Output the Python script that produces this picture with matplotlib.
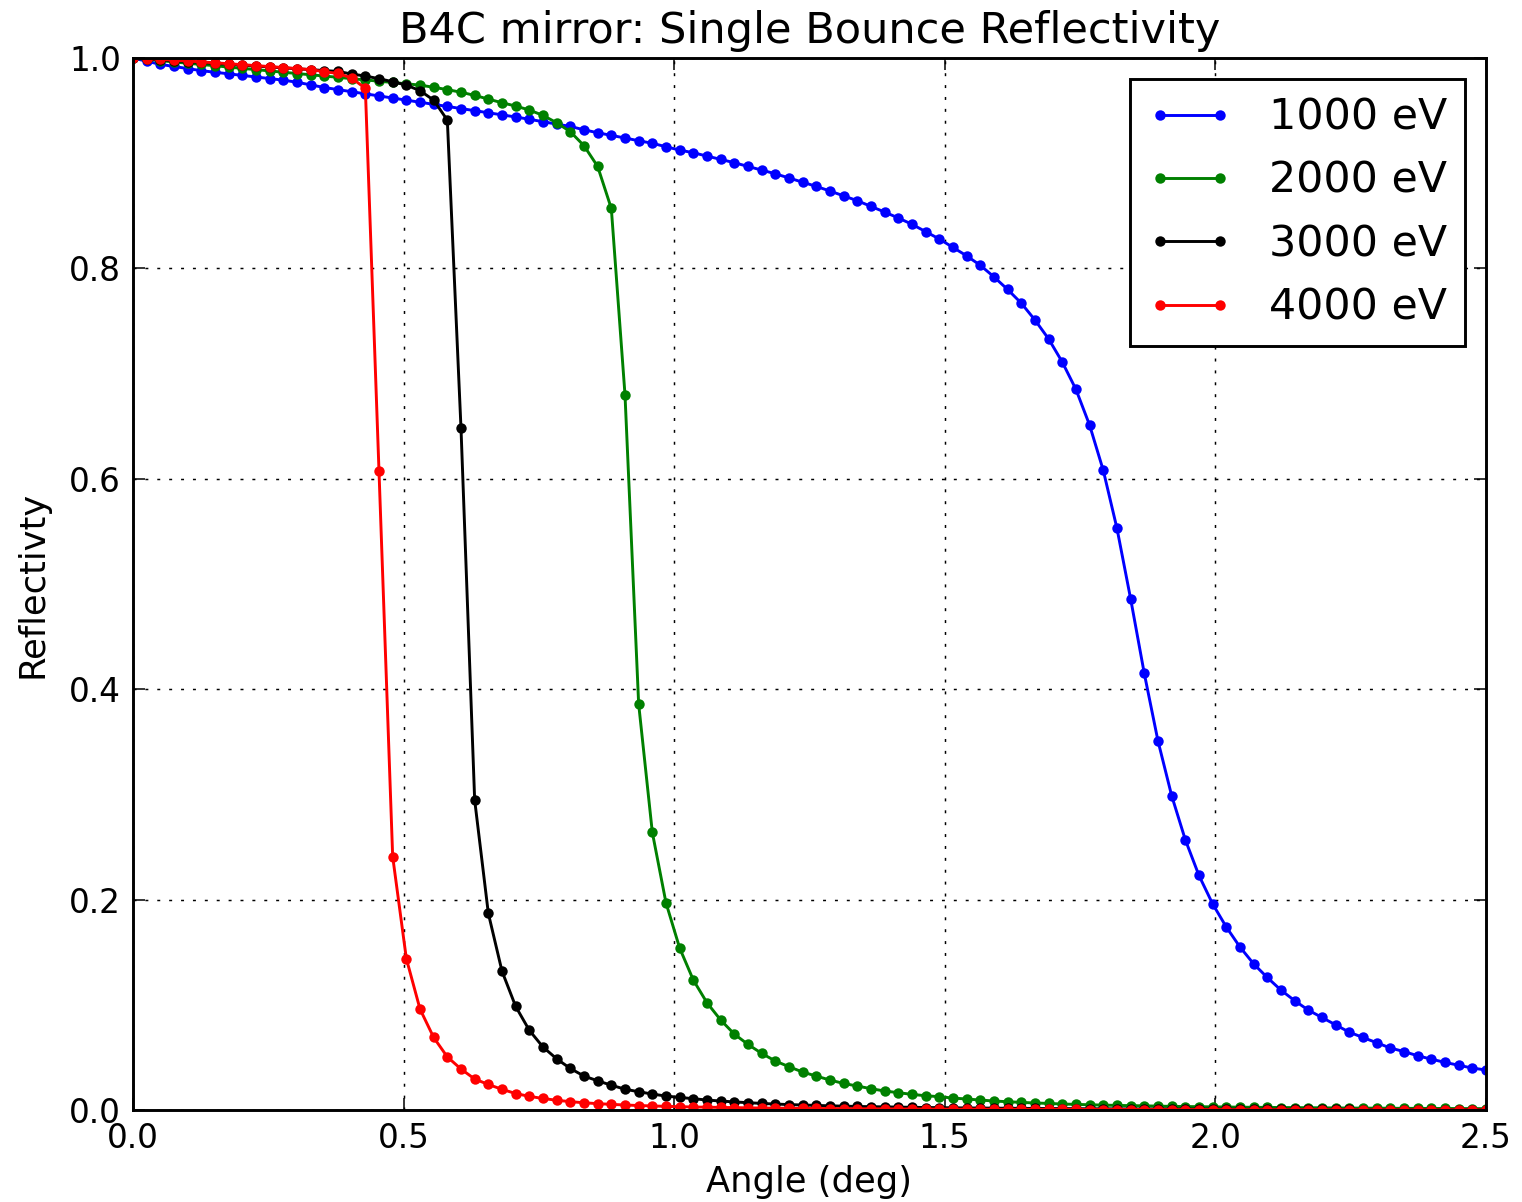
import numpy as np
import matplotlib
matplotlib.use("Agg")
import matplotlib.pyplot as plt

# grazing angle grid (deg)
angle = np.linspace(0, 2.5, 100)

energies = ["1000 eV", "2000 eV", "3000 eV", "4000 eV"]
colors = ["b", "g", "k", "r"]

refl_1000 = [
    1.000, 0.997, 0.994, 0.992, 0.990, 0.988, 0.9865, 0.985, 0.9835, 0.982,
    0.9805, 0.979, 0.977, 0.9745, 0.972, 0.970, 0.968, 0.966, 0.964, 0.962,
    0.960, 0.958, 0.956, 0.954, 0.952, 0.950, 0.948, 0.946, 0.944, 0.9418,
    0.9395, 0.9372, 0.935, 0.9318, 0.929, 0.9265, 0.924, 0.9214, 0.919, 0.9157,
    0.9125, 0.910, 0.9068, 0.9037, 0.9005, 0.897, 0.8935, 0.890, 0.886, 0.882,
    0.878, 0.8736, 0.869, 0.8644, 0.859, 0.8536, 0.848, 0.842, 0.835, 0.828,
    0.820, 0.812, 0.803, 0.792, 0.780, 0.767, 0.751, 0.733, 0.711, 0.685,
    0.651, 0.608, 0.553, 0.486, 0.415, 0.351, 0.299, 0.257, 0.223, 0.196,
    0.174, 0.155, 0.139, 0.126, 0.114, 0.104, 0.095, 0.088, 0.081, 0.074,
    0.069, 0.064, 0.059, 0.0556, 0.0516, 0.0484, 0.0453, 0.0426, 0.0399, 0.0381,
]

refl_2000 = [
    1.000, 0.9988, 0.9976, 0.9963, 0.9951, 0.9939, 0.9927, 0.9914, 0.9902, 0.989,
    0.9878, 0.9865, 0.9853, 0.9841, 0.9829, 0.9817, 0.9804, 0.9792, 0.978, 0.9768,
    0.9755, 0.9743, 0.9722, 0.970, 0.9675, 0.9645, 0.961, 0.9575, 0.9544, 0.9506,
    0.9455, 0.9385, 0.930, 0.9167, 0.897, 0.857, 0.680, 0.386, 0.264, 0.197,
    0.154, 0.1236, 0.102, 0.0856, 0.0722, 0.0624, 0.0539, 0.0466, 0.0412, 0.0361,
    0.0323, 0.0285, 0.0253, 0.0228, 0.0203, 0.0181, 0.0165, 0.0149, 0.0136, 0.0127,
    0.0114, 0.0105, 0.0095, 0.0086, 0.0079, 0.0073, 0.0067, 0.0063, 0.0057, 0.0054,
    0.0050, 0.0047, 0.0044, 0.0042, 0.0040, 0.0037, 0.0035, 0.0033, 0.0032, 0.0030,
    0.0029, 0.0027, 0.0026, 0.0025, 0.0024, 0.0023, 0.0022, 0.0021, 0.0020, 0.0019,
    0.0018, 0.0018, 0.0017, 0.0016, 0.0016, 0.0015, 0.0015, 0.0014, 0.0014, 0.0013,
]

refl_3000 = [
    1.000, 0.9992, 0.9983, 0.9975, 0.9966, 0.9958, 0.9949, 0.9941, 0.9932, 0.9924,
    0.9915, 0.9907, 0.9898, 0.989, 0.9881, 0.9873, 0.9848, 0.9829, 0.9804, 0.9775,
    0.9743, 0.969, 0.960, 0.941, 0.648, 0.2947, 0.187, 0.132, 0.0985, 0.0758,
    0.0599, 0.0487, 0.0395, 0.0323, 0.0278, 0.0236, 0.0198, 0.0174, 0.0152, 0.0133,
    0.0120, 0.0108, 0.0095, 0.0086, 0.0077, 0.0070, 0.0063, 0.0057, 0.0052, 0.0048,
    0.0044, 0.0040, 0.0037, 0.0034, 0.0032, 0.0030, 0.0028, 0.0026, 0.0024, 0.0023,
    0.0021, 0.0020, 0.0019, 0.0018, 0.0017, 0.0016, 0.0015, 0.0014, 0.0014, 0.0013,
    0.0012, 0.0012, 0.0011, 0.0011, 0.0010, 0.0010, 0.0009, 0.0009, 0.0009, 0.0008,
    0.0008, 0.0008, 0.0007, 0.0007, 0.0007, 0.0007, 0.0006, 0.0006, 0.0006, 0.0006,
    0.0005, 0.0005, 0.0005, 0.0005, 0.0005, 0.0004, 0.0004, 0.0004, 0.0004, 0.0004,
]

refl_4000 = [
    1.000, 0.9995, 0.9988, 0.998, 0.9972, 0.9963, 0.9955, 0.9946, 0.9937, 0.9928,
    0.9919, 0.991, 0.990, 0.989, 0.987, 0.9854, 0.981, 0.9712, 0.607, 0.241,
    0.144, 0.096, 0.069, 0.0505, 0.039, 0.0295, 0.0243, 0.0197, 0.0157, 0.013,
    0.011, 0.0093, 0.0080, 0.0069, 0.0061, 0.0054, 0.0048, 0.0043, 0.0039, 0.0035,
    0.0032, 0.0029, 0.0027, 0.0025, 0.0023, 0.0021, 0.0019, 0.0018, 0.0017, 0.0016,
    0.0015, 0.0014, 0.0013, 0.0012, 0.0012, 0.0011, 0.0010, 0.0010, 0.0009, 0.0009,
    0.0008, 0.0008, 0.0008, 0.0007, 0.0007, 0.0007, 0.0006, 0.0006, 0.0006, 0.0006,
    0.0005, 0.0005, 0.0005, 0.0005, 0.0005, 0.0004, 0.0004, 0.0004, 0.0004, 0.0004,
    0.0004, 0.0003, 0.0003, 0.0003, 0.0003, 0.0003, 0.0003, 0.0003, 0.0003, 0.0003,
    0.0002, 0.0002, 0.0002, 0.0002, 0.0002, 0.0002, 0.0002, 0.0002, 0.0002, 0.0002,
]

curves = [refl_1000, refl_2000, refl_3000, refl_4000]

fig = plt.figure(figsize=(15.22, 12.02), dpi=100)
ax = fig.add_axes([0.0874, 0.0765, 0.8889, 0.8752])

for refl, col, lab in zip(curves, colors, energies):
    ax.plot(angle, refl, color=col, linestyle="-", linewidth=2.1,
            marker="o", markersize=7.5, markeredgewidth=0, label=lab)

ax.set_xlim(0, 2.5)
ax.set_ylim(0, 1.0)
ax.set_xticks([0.0, 0.5, 1.0, 1.5, 2.0, 2.5])
ax.set_yticks([0.0, 0.2, 0.4, 0.6, 0.8, 1.0])
ax.xaxis.set_major_formatter(plt.FormatStrFormatter("%.1f"))
ax.yaxis.set_major_formatter(plt.FormatStrFormatter("%.1f"))

ax.grid(True, color="k", linewidth=1.07, linestyle=(0, (2.0, 6.0)))
ax.tick_params(direction="in", length=8.5, width=1.1, pad=8.6,
               labelsize=23.5, top=True, right=True)
for sp in ax.spines.values():
    sp.set_linewidth(2.1)

ax.set_title("B4C mirror: Single Bounce Reflectivity", fontsize=31.1, pad=11)
ax.set_xlabel("Angle (deg)", fontsize=25.4, labelpad=7)
ax.set_ylabel("Reflectivty", fontsize=25.4, labelpad=14)

leg = ax.legend(loc="upper right", fontsize=30.8, numpoints=2,
                fancybox=False, shadow=False, borderpad=0.4,
                labelspacing=0.5, handlelength=2.0, handletextpad=0.85,
                borderaxespad=0.5)
leg.get_frame().set_edgecolor("k")
leg.get_frame().set_linewidth(2.1)
leg.get_frame().set_alpha(None)

fig.savefig("out.png", dpi=100)
